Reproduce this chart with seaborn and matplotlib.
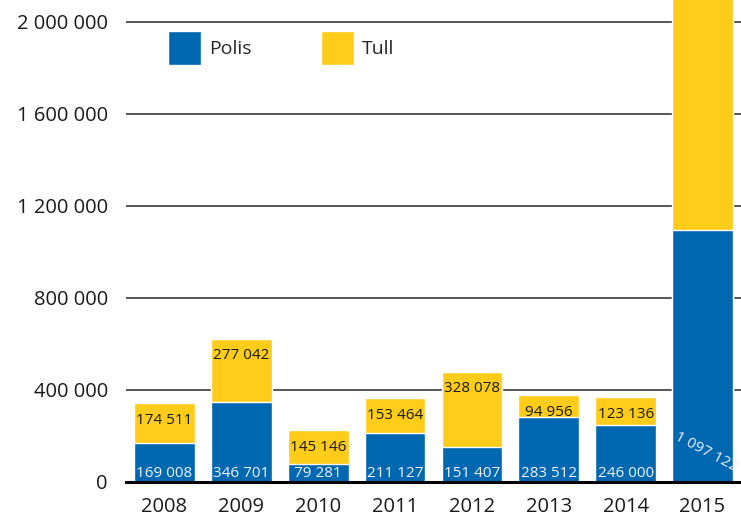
import matplotlib
matplotlib.use("Agg")
from matplotlib import pyplot as plt
import seaborn as sns
import pandas as pd

# data
years = ["2008", "2009", "2010", "2011", "2012", "2013", "2014", "2015"]
polis = [169008, 346701, 79281, 211127, 151407, 283512, 246000, 1097122]
tull = [174511, 277042, 145146, 153464, 328078, 94956, 123136, 1250000]  # 2015 tull: cut off, estimated
tull_labels = ["174 511", "277 042", "145 146", "153 464", "328 078", "94 956", "123 136", None]
polis_labels = ["169 008", "346 701", "79 281", "211 127", "151 407", "283 512", "246 000", "1 097 122"]
yticks = [0, 400000, 800000, 1200000, 1600000, 2000000]
ytick_labels = ["0", "400 000", "800 000", "1 200 000", "1 600 000", "2 000 000"]

blue = "#0067b1"
yellow = "#ffcc1a"

df = pd.DataFrame({"år": years, "Polis": polis, "Tull": tull})
df["total"] = df["Polis"] + df["Tull"]

sns.set_style("white")
plt.rcParams['font.family'] = ['Open Sans', 'DejaVu Sans']

fig = plt.figure(figsize=(7.41, 5.18), dpi=100)
ax = fig.add_axes([0.17, 0.0695, 0.83, 0.9305])

sns.barplot(data=df, x="år", y="total", color=yellow, width=0.79, saturation=1, ax=ax, label="Tull")
sns.barplot(data=df, x="år", y="Polis", color=blue, width=0.79, saturation=1, ax=ax, label="Polis")

ax.set_xlim(-0.5, 7.5)
ax.set_ylim(0, 2095652)
ax.set_yticks(yticks)
ax.set_yticklabels(ytick_labels)
ax.set_axisbelow(True)
ax.yaxis.grid(True, color="#3a3a3a", linewidth=1.2)
ax.xaxis.grid(False)
for s in ["top", "right", "left"]:
    ax.spines[s].set_visible(False)
ax.spines["bottom"].set_color("black")
ax.spines["bottom"].set_linewidth(2.2)
ax.tick_params(axis="both", length=0, labelsize=14.5, colors="#1a1a1a")
ax.tick_params(axis="y", pad=13)
ax.tick_params(axis="x", pad=11)
ax.set_xlabel("")
ax.set_ylabel("")

# value labels
for i in range(len(years)):
    if tull_labels[i] is not None:
        ax.annotate(tull_labels[i], (i, df["total"][i]), xytext=(0, -7), textcoords="offset points",
                    ha="center", va="top", fontsize=11, color="#1a1a1a")
    if i < len(years) - 1:
        ax.annotate(polis_labels[i], (i, 0), xytext=(0, 1), textcoords="offset points",
                    ha="center", va="bottom", fontsize=11, color="#eef3fa")
    else:
        ax.text(i + 0.05, 130000, polis_labels[i], rotation=-28, rotation_mode="anchor",
                ha="center", va="center", fontsize=11, color="#eef3fa")

# legend: Polis first
handles, labels = ax.get_legend_handles_labels()
order = [labels.index("Polis"), labels.index("Tull")]
ax.legend([handles[k] for k in order], [labels[k] for k in order], loc="upper left",
          bbox_to_anchor=(0.04, 0.972), ncol=2, frameon=False, fontsize=14,
          handlelength=1.7, handleheight=2.3, handletextpad=0.4, columnspacing=3.6)

fig.savefig("out.png", dpi=100)
